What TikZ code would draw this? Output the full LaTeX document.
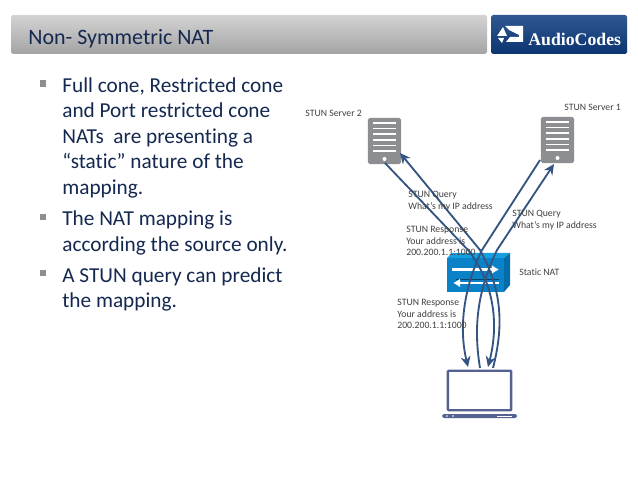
\documentclass[tikz,border=0pt]{standalone}
\usepackage{fontspec}
\setmainfont{Carlito}[Ligatures=NoCommon]
\newfontfamily\logofont{Liberation Serif}
\usetikzlibrary{positioning,calc,arrows.meta}
\definecolor{natnavy}{RGB}{20,40,80}
\definecolor{natarrow}{RGB}{52,84,130}
\definecolor{natgrey}{RGB}{140,142,145}
\definecolor{natlaptop}{RGB}{84,98,146}
\definecolor{natface}{RGB}{10,130,200}
\definecolor{nattop}{RGB}{20,160,222}
\definecolor{natside}{RGB}{5,108,170}
\definecolor{logoblue}{RGB}{12,58,125}
\tikzset{
  bodytext/.style={anchor=north west,align=left,inner sep=0pt,text=natnavy,font=\fontsize{12.1}{14.5}\selectfont},
  bullet/.style={fill=natgrey,draw=none,minimum size=3.7pt,inner sep=0pt},
  smalltext/.style={anchor=north west,align=left,inner sep=0pt,text=black!75,font=\fontsize{5.55}{6.6}\selectfont},
  flow/.style={natarrow,line width=1.05pt,-{Stealth[length=6pt,width=5.6pt]}},
  server/.style={fill=natgrey,draw=none,rounded corners=1pt,minimum width=18.8pt,minimum height=26.2pt,inner sep=0pt}
}
\begin{document}
\begin{tikzpicture}[x=0.02cm,y=-0.02cm]
  \useasboundingbox (0,0) rectangle (638,479);
  % header
  \shade[top color=black!17,bottom color=black!36,rounded corners=1pt] (11,15) rectangle (487,54);
  \node[anchor=west,inner sep=0pt,text=natnavy,font=\fontsize{12.5}{14}\selectfont] (title) at (28,39) {Non- Symmetric NAT};
  \shade[top color=logoblue!85!white,bottom color=logoblue!90!black,rounded corners=1pt] (491,15) rectangle (627,54);
  \fill[white] (505,26) -- (523,26) -- (523,42) -- (506,42) -- (510,37) -- (519,37) -- (519,35) -- (509,30) -- cycle;
  \fill[white] (497,36) -- (503,27) -- (507,36) -- cycle;
  \fill[white] (498,38) -- (504,38) -- (502,43) -- cycle;
  \node[anchor=west,inner sep=0pt,text=white,font=\logofont\bfseries\fontsize{10.1}{11}\selectfont] (logo) at (528,39) {AudioCodes};
  % bullets
  \foreach \ypos in {83.5,217,273}{
    \node[bullet] at (43,\ypos) {};
  }
  \node[bodytext] (first) at (62,77) {Full cone, Restricted cone\\and Port restricted cone\\NATs\ \ are presenting a\\“static” nature of the\\mapping.};
  \node[bodytext] (second) at (62,210.5) {The NAT mapping is\\according the source only.};
  \node[bodytext] (third) at (62,267) {A STUN query can predict\\the mapping.};
  % servers
  \foreach \name/\xpos/\ypos in {servertwo/384.5/141,serverone/557.5/140}{
    \node[server] (\name) at (\xpos,\ypos) {};
    \foreach \dy in {-18,-12.4,-6.8,-1.2,4.4,10}{
      \draw[white,line width=0.9pt] (\xpos-11.5,\ypos+\dy) -- ++(23,0);
    }
    \fill[white] (\xpos,\ypos+18) circle (2);
  }
  \node[smalltext] (stwo) at (305,110) {STUN Server 2};
  \node[smalltext] (sone) at (564,104) {STUN Server 1};
  % static nat box
  \fill[nattop] (447,258) -- (452,253) -- (510,253) -- (504,258) -- cycle;
  \fill[natside] (504,258) -- (510,253) -- (510,285) -- (504,292) -- cycle;
  \node[fill=natface,draw=none,minimum width=32.4pt,minimum height=19.3pt,inner sep=0pt] (nat) at (475.5,275) {};
  \draw[natside!60!black,line width=0.5pt] (456,279.5) -- (499,279.5);
  \draw[white,line width=1.7pt,-{Latex[length=4pt,width=5pt]}] (452,269.5) -- (499,269.5);
  \draw[white,line width=1.7pt,-{Latex[length=4pt,width=5pt]}] (499,283) -- (453,283);
  \node[smalltext] (natlabel) at (519,268) {Static NAT};
  % laptop
  \node[draw=natlaptop,line width=1.4pt,minimum width=36pt,minimum height=22.5pt,inner sep=0pt,rounded corners=0.5pt] (laptop) at (479.5,390.5) {};
  \fill[natlaptop,rounded corners=1pt] (442,414) rectangle (517,418);
  \fill[white] (447,416) circle (0.8) (453,416) circle (0.8);
  \draw[white,line width=0.5pt] (497,416) -- (512,416);
  % flows
  \coordinate (twoout) at (385,163);
  \coordinate (twoin) at (400,153);
  \coordinate (oneout) at (540,160);
  \coordinate (onein) at (554,164);
  \coordinate (lapa) at (468,367);
  \coordinate (lapb) at (480,368);
  \coordinate (lapc) at (488,367);
  \coordinate (lapd) at (493,368);
  \draw[flow] (twoout) -- (468,250) .. controls (492,280) and (500,320) .. (lapc);
  \draw[flow] (oneout) -- (482,250) .. controls (465,285) and (458,325) .. (lapa);
  \draw[flow] (lapb) .. controls (473,325) and (478,290) .. (497,250) -- (onein);
  \draw[flow] (lapd) .. controls (504,325) and (502,290) .. (480,250) -- (twoin);
  % labels
  \node[smalltext] (queryb) at (408,191) {STUN Query\\What’s my IP address};
  \node[smalltext] (querya) at (512,210) {STUN Query\\What’s my IP address};
  \node[smalltext] (respb) at (406,226) {STUN Response\\Your address is\\200.200.1.1:1000};
  \node[smalltext] (respa) at (397,299) {STUN Response\\Your address is\\200.200.1.1:1000};
\end{tikzpicture}
\end{document}
